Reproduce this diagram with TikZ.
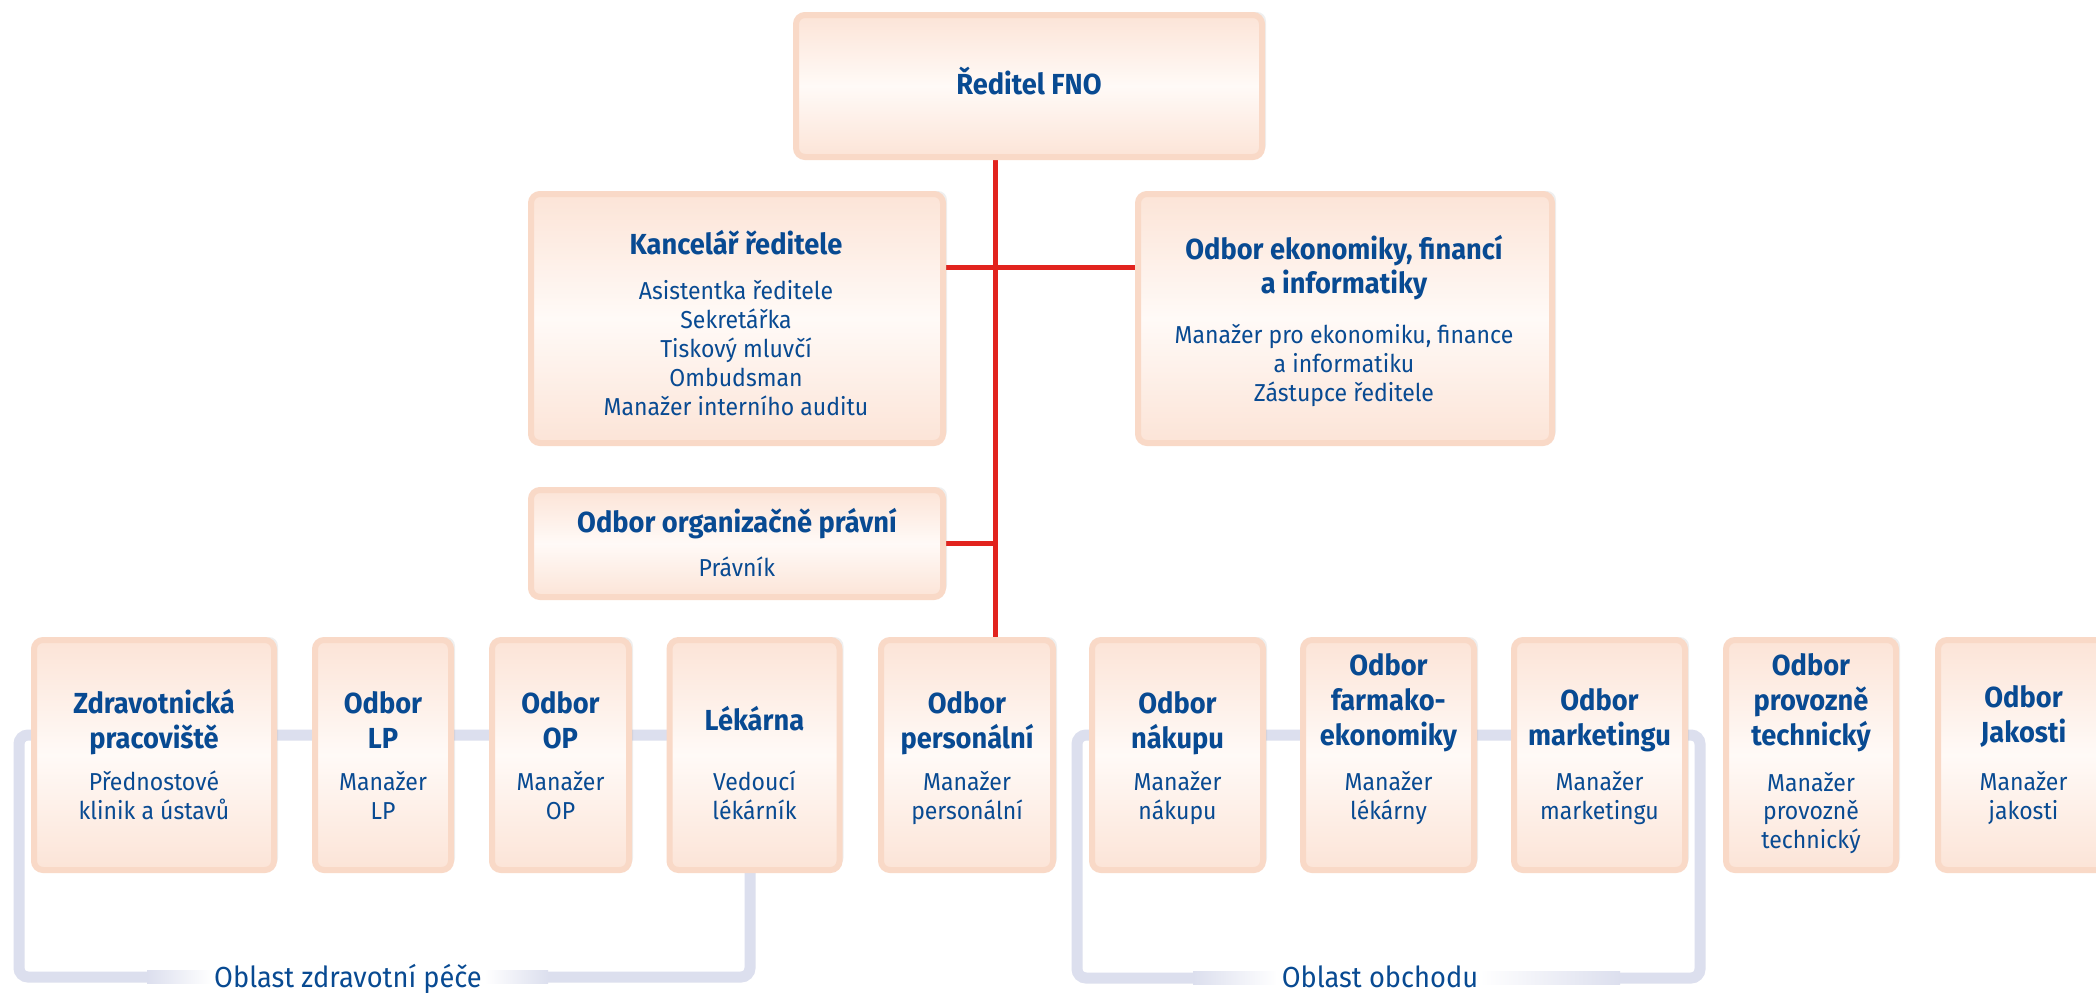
\documentclass[tikz,border=0pt]{standalone}
\usepackage{fontspec}
\setmainfont{Fira Sans}[FakeStretch=0.94]
\usetikzlibrary{shadows,backgrounds}

\definecolor{fnoblue}{RGB}{8,74,146}
\definecolor{fnored}{RGB}{226,35,30}
\definecolor{boxedge}{RGB}{249,217,199}
\definecolor{boxfill}{RGB}{252,228,215}
\definecolor{boxmid}{RGB}{255,250,247}
\definecolor{arealine}{RGB}{220,223,238}

\tikzset{
  unitbox/.style={draw=boxedge, line width=6pt, rounded corners=9pt,
    top color=boxfill, bottom color=boxfill, middle color=boxmid,
    drop shadow={shadow xshift=4pt, shadow yshift=3pt, opacity=0.12},
    inner sep=0pt},
  titletext/.style={text=fnoblue, font=\fontsize{29}{35}\selectfont\bfseries,
    align=center, inner sep=0pt, anchor=base},
  subtext/.style={text=fnoblue, font=\fontsize{24.5}{28.5}\selectfont,
    align=center, inner sep=0pt, anchor=base},
  redline/.style={draw=fnored, line width=5pt},
  arealine/.style={draw=arealine, line width=11pt, rounded corners=9pt},
  arealabel/.style={text=fnoblue, font=\fontsize{29}{35}\selectfont,
    inner sep=0pt, anchor=base}
}

\begin{document}
\begin{tikzpicture}[x=1pt, y=-1pt]
\useasboundingbox (0,0) rectangle (2096,993);

% director and staff (text nodes sit on the baseline of their last line)
\node[unitbox, minimum width=466, minimum height=142] (reditel) at (1029,86) {};
\node[titletext] (reditel-t) at (1029,94) {Ředitel FNO};

\node[unitbox, minimum width=412, minimum height=249] (kancelar) at (737,318.5) {};
\node[titletext] (kancelar-t) at (736,254) {Kancelář ředitele};
\node[subtext, font=\fontsize{24.5}{29}\selectfont] (kancelar-s) at (736,415)
  {Asistentka ředitele\\Sekretářka\\Tiskový mluvčí\\Ombudsman\\Manažer interního auditu};

\node[unitbox, minimum width=414, minimum height=249] (ekonomika) at (1345,318.5) {};
\node[titletext, font=\fontsize{29}{34}\selectfont\bfseries] (ekonomika-t) at (1344,293)
  {Odbor ekonomiky, financí\\a informatiky};
\node[subtext, font=\fontsize{24.5}{29}\selectfont] (ekonomika-s) at (1344,401)
  {Manažer pro ekonomiku, finance\\a informatiku\\Zástupce ředitele};

\node[unitbox, minimum width=412, minimum height=107] (pravni) at (737,543.5) {};
\node[titletext] (pravni-t) at (737,532) {Odbor organizačně právní};
\node[subtext] (pravni-s) at (737,576) {Právník};

% departments
\foreach \nm/\cx/\bw/\ty/\sy/\ttl/\sub in {
  zdrav/154/246/748/819/{Zdravotnická\\pracoviště}/{Přednostové\\klinik a ústavů},
  odbor-lp/383/142/748/819/{Odbor\\LP}/{Manažer\\LP},
  odbor-op/560.5/143/748/819/{Odbor\\OP}/{Manažer\\OP},
  lekarna/754.5/176/730/819/{Lékárna}/{Vedoucí\\lékárník},
  personalni/967/178/748/819/{Odbor\\personální}/{Manažer\\personální},
  nakup/1177.5/177/748/819/{Odbor\\nákupu}/{Manažer\\nákupu},
  farmako/1388.5/177/745/819/{Odbor\\farmako-\\ekonomiky}/{Manažer\\lékárny},
  marketing/1599.5/177/745/819/{Odbor\\marketingu}/{Manažer\\marketingu},
  provozne/1811/176/745/848/{Odbor\\provozně\\technický}/{Manažer\\provozně\\technický},
  jakost/2023.5/177/742/819/{Odbor\\Jakosti}/{Manažer\\jakosti}}
{
  \node[unitbox, minimum width=\bw-6, minimum height=230] (\nm) at (\cx,755) {};
  \node[titletext] (\nm-t) at (\cx,\ty) {\ttl};
  \node[subtext] (\nm-s) at (\cx,\sy) {\sub};
}

% areas
\node[arealabel] (zdrav-area) at (348,987) {Oblast zdravotní péče};
\node[arealabel] (obchod-area) at (1380,987) {Oblast obchodu};

\coordinate (trunk) at (995,0);
\coordinate (kline) at (995,267);
\coordinate (zcorner) at (19,735);
\coordinate (zbottom) at (750,977);
\coordinate (ocorner) at (1077,735);
\coordinate (obottom) at (1700,978);

\begin{pgfonlayer}{background}
\fill[white] (0,0) rectangle (2096,993);

% reporting lines
\draw[redline] (reditel.south -| trunk) -- (personalni.north -| trunk);
\draw[redline] (kancelar.east |- kline) -- (ekonomika.west |- kline);
\draw[redline] (pravni.east) -- (pravni.east -| trunk);

% area brackets
\draw[arealine] (zcorner) -- (zbottom |- zcorner) -- (zbottom) -- (zcorner |- zbottom) -- cycle;
\draw[arealine] (ocorner) -- (obottom |- ocorner) -- (obottom) -- (ocorner |- obottom) -- cycle;
\fill[left color=arealine, right color=white] (147,970.5) rectangle (212,983.5);
\fill[white] (211,970.5) rectangle (486,983.5);
\fill[left color=white, right color=arealine] (485,970.5) rectangle (548,983.5);
\fill[left color=arealine, right color=white] (1193,971.5) rectangle (1277,984.5);
\fill[white] (1276,971.5) rectangle (1481,984.5);
\fill[left color=white, right color=arealine] (1480,971.5) rectangle (1620,984.5);
\end{pgfonlayer}

\end{tikzpicture}
\end{document}
